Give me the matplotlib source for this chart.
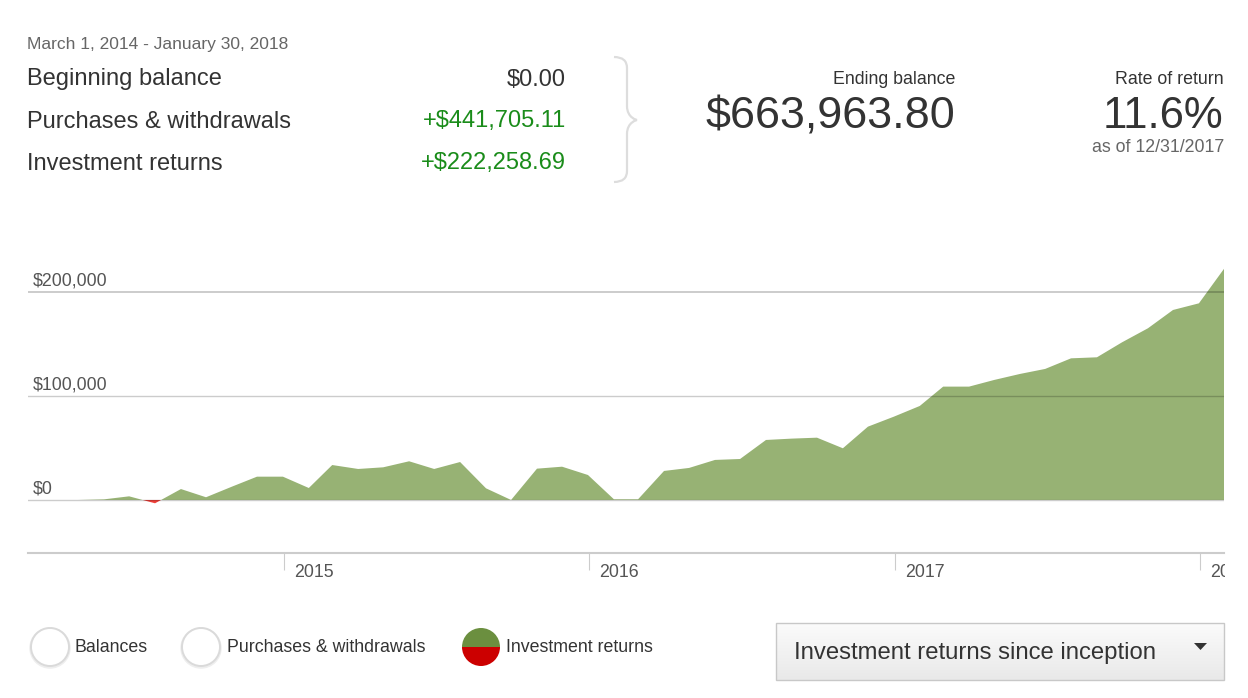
import matplotlib
matplotlib.use("Agg")
import matplotlib.pyplot as plt
import matplotlib.dates as mdates
from matplotlib.patches import Circle, Wedge, Rectangle, Polygon, PathPatch
from matplotlib.path import Path
import numpy as np
import pandas as pd

plt.rcParams['font.family'] = ['Liberation Sans', 'DejaVu Sans']

# ---------------- data ----------------
start_date = "2014-03-01"
end_date = "2018-01-30"
month_ends = list(pd.date_range("2014-03-31", periods=46, freq=pd.offsets.MonthEnd()))
dates = [pd.Timestamp(start_date)] + month_ends + [pd.Timestamp(end_date)]

returns = [0,
           # 2014 Mar..Dec
           0, 0, 600, 3500, -3200, 10500, 2600, 12800, 22400, 22400,
           # 2015
           11500, 33600, 29800, 31400, 37200, 29800, 36500, 11200, 0, 30100, 32000, 24000,
           # 2016
           700, 700, 27900, 30800, 38500, 39400, 57700, 59000, 59900, 49700, 70500, 80100,
           # 2017
           90400, 109000, 109000, 115400, 121200, 126000, 136200, 137200, 151600, 165100, 182700, 189100,
           # Jan 30 2018
           222259]

y_ticks = [0, 100000, 200000]
y_tick_labels = ["$0", "$100,000", "$200,000"]
x_ticks = ["2015-01-01", "2016-01-01", "2017-01-01", "2018-01-01"]
x_tick_labels = ["2015", "2016", "2017", "2018"]

period_label = "March 1, 2014 - January 30, 2018"
summary_labels = ["Beginning balance", "Purchases & withdrawals", "Investment returns"]
summary_values = ["$0.00", "+$441,705.11", "+$222,258.69"]
ending_balance = "$663,963.80"
rate_of_return = "11.6%"
rate_date = "as of 12/31/2017"
legend_items = ["Balances", "Purchases & withdrawals", "Investment returns"]
dropdown_text = "Investment returns since inception"

# ---------------- figure ----------------
W, H = 1248, 698
fig = plt.figure(figsize=(W / 100, H / 100), dpi=100)
fig.patch.set_facecolor("white")

def fx(px):
    return px / W

def fy(py):
    return 1 - py / H

ax_left, ax_right, ax_top, ax_bottom = 28, 1224, 261, 553
ax = fig.add_axes([fx(ax_left), fy(ax_bottom), fx(ax_right - ax_left), (ax_bottom - ax_top) / H])

x = mdates.date2num(dates)
y = np.array(returns, dtype=float)
green = "#97b274"
red = "#f0403a"
ax.fill_between(x, y, 0, where=y >= 0, interpolate=True, color=green, linewidth=0, zorder=2)
ax.fill_between(x, y, 0, where=y <= 0, interpolate=True, color=red, linewidth=0, zorder=2)

ax.set_xlim(mdates.date2num(pd.Timestamp(start_date)), mdates.date2num(pd.Timestamp(end_date)))
ax.set_ylim(-51000, 229800)

for v, lab in zip(y_ticks, y_tick_labels):
    lw = 1.4 if v == 200000 else 1.0
    ax.axhline(v, color="black", alpha=0.2, lw=lw, zorder=3)
    ax.annotate(lab, xy=(0, v), xycoords=("axes fraction", "data"),
                xytext=(3.6, 8.0), textcoords="offset points",
                ha="left", va="center", fontsize=12.8, color="#555555", zorder=4)

for s in ["top", "left", "right"]:
    ax.spines[s].set_visible(False)
ax.spines["bottom"].set_color("#cccccc")
ax.spines["bottom"].set_linewidth(1.5)
ax.set_yticks([])
xt = mdates.date2num(pd.to_datetime(x_ticks))
ax.set_xticks(xt)
ax.set_xticklabels([])
ax.tick_params(axis="x", length=12.2, width=0.8, color="#cccccc", direction="out")
for t, lab in zip(xt, x_tick_labels):
    ax.annotate(lab, xy=(t, 0), xycoords=("data", "axes fraction"),
                xytext=(7.5, -14.3), textcoords="offset points",
                ha="left", va="center", fontsize=12.8, color="#555555",
                annotation_clip=False)

# ---------------- overlay in pixel coordinates ----------------
ov = fig.add_axes([0, 0, 1, 1], zorder=10)
ov.set_xlim(0, W)
ov.set_ylim(H, 0)
ov.axis("off")
ov.patch.set_alpha(0)

# white mask clipping the cut-off "2018" label
ov.add_patch(Rectangle((1225, 555), 30, 40, facecolor="white", edgecolor="none"))

dark = "#333333"
gray = "#666666"
tgreen = "#1a8c1a"

ov.text(27, 44.5, period_label, fontsize=12.5, color=gray, ha="left", va="center")
for i, (lab, val) in enumerate(zip(summary_labels, summary_values)):
    yy = 79.5 + 42 * i
    ov.text(27, yy, lab, fontsize=17, color=dark, ha="left", va="center")
    ov.text(566, yy, val, fontsize=17, color=(dark if i == 0 else tgreen), ha="right", va="center")

# curly brace
bx0, bx1, bx2 = 614, 627, 637
verts = [(bx0, 57), (bx1, 57), (bx1, 68),
         (bx1, 106),
         (bx1, 118), (bx2, 120), (bx2, 120),
         (bx2, 120), (bx1, 122), (bx1, 134),
         (bx1, 171),
         (bx1, 182), (bx0, 182)]
codes = [Path.MOVETO, Path.CURVE3, Path.CURVE3,
         Path.LINETO,
         Path.CURVE4, Path.CURVE4, Path.CURVE4,
         Path.CURVE4, Path.CURVE4, Path.CURVE4,
         Path.LINETO,
         Path.CURVE3, Path.CURVE3]
ov.add_patch(PathPatch(Path(verts, codes), facecolor="none", edgecolor="#dddddd", lw=1.6))

ov.text(955, 79, "Ending balance", fontsize=12.8, color=dark, ha="right", va="center")
ov.text(955, 117, ending_balance, fontsize=32.3, color=dark, ha="right", va="center")
ov.text(1224, 79, "Rate of return", fontsize=12.8, color=dark, ha="right", va="center")
ov.text(1223, 117, rate_of_return, fontsize=31.5, color=dark, ha="right", va="center")
ov.text(1224, 148, rate_date, fontsize=12.8, color=gray, ha="right", va="center")

# legend
legend_circles = [50, 201, 481]
legend_text_x = [75, 227, 506]
ly = 647
for cx, tx, lab in zip(legend_circles, legend_text_x, legend_items):
    if lab == "Investment returns":
        ov.add_patch(Wedge((cx, ly), 19, 180, 360, facecolor="#6b8f3f", edgecolor="none"))
        ov.add_patch(Wedge((cx, ly), 19, 0, 180, facecolor="#cc0000", edgecolor="none"))
    else:
        ov.add_patch(Circle((cx, ly + 1), 19, facecolor="none", edgecolor="#eeeeee", lw=2.5))
        ov.add_patch(Circle((cx, ly), 19, facecolor="white", edgecolor="#dadada", lw=1.4))
    ov.text(tx, ly + 1, lab, fontsize=12.8, color=dark, ha="left", va="center")

# dropdown
dx0, dx1, dy0, dy1 = 776, 1224, 623, 680
grad = np.linspace(0, 1, 64).reshape(-1, 1)
ov.imshow(grad, extent=(dx0, dx1, dy1, dy0), cmap=matplotlib.colors.LinearSegmentedColormap.from_list(
    "g", ["#fbfbfb", "#e9e9e9"]), aspect="auto", zorder=1)
ov.add_patch(Rectangle((dx0, dy0), dx1 - dx0, dy1 - dy0, facecolor="none", edgecolor="#c8c8c8", lw=1, zorder=2))
ov.text(794, 653, dropdown_text, fontsize=17.2, color=dark, ha="left", va="center", zorder=3)
ov.add_patch(Polygon([(1194, 643), (1207, 643), (1200.5, 650)], closed=True, facecolor="#333333", edgecolor="none", zorder=3))
ov.set_xlim(0, W)
ov.set_ylim(H, 0)

fig.savefig("out.png", dpi=100, facecolor="white")
